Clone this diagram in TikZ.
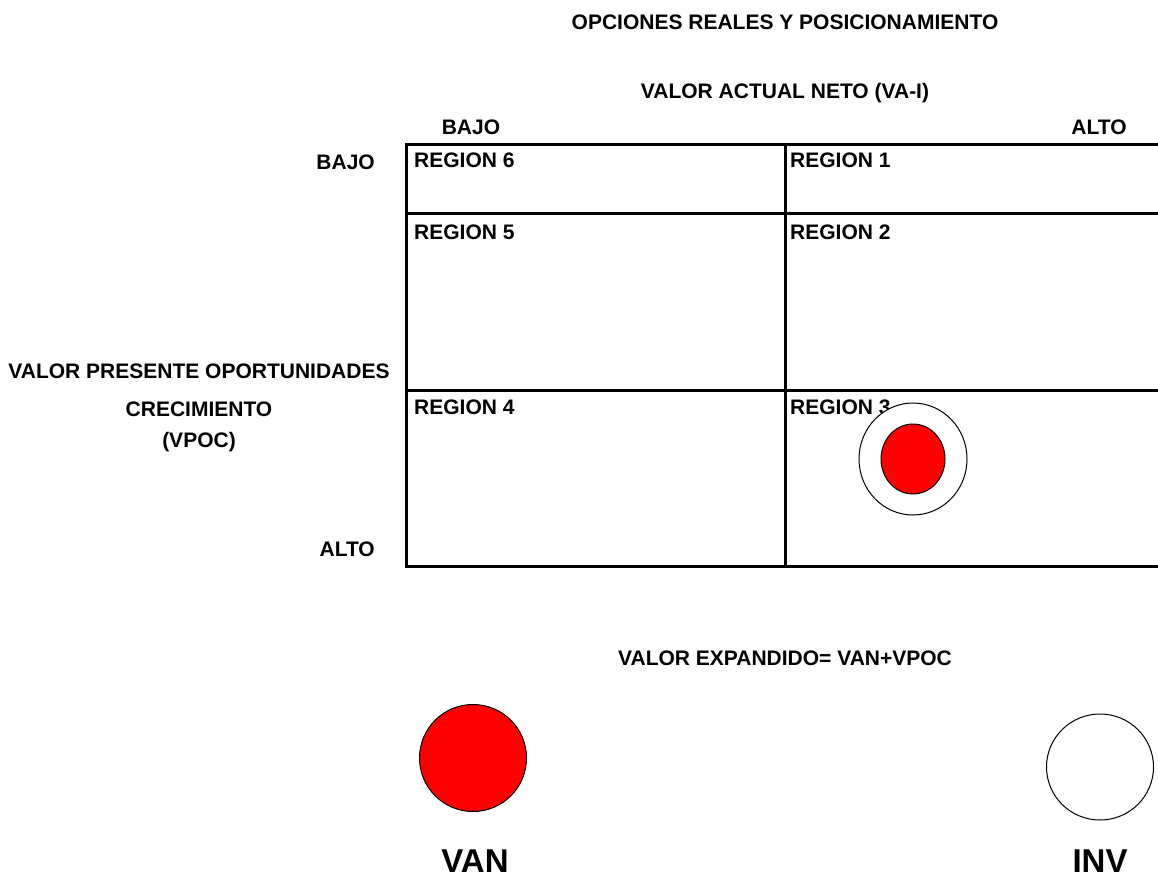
\documentclass[tikz,border=0pt]{standalone}
\usepackage{fontspec}
\setmainfont{Liberation Sans}
\usetikzlibrary{shapes.geometric}
\begin{document}
\begin{tikzpicture}[x=1pt,y=-1pt,
  lbl/.style={font=\fontsize{21}{24}\selectfont\bfseries, inner sep=0pt},
  big/.style={font=\fontsize{33}{36}\selectfont\bfseries, inner sep=0pt},
  gridline/.style={line width=3pt, line cap=rect},
  ring/.style={ellipse, draw=black, line width=1pt, inner sep=0pt}]
\useasboundingbox (0,0) rectangle (1158,880);
\begin{scope}
\clip (0,0) rectangle (1158,880);
% grid corners
\coordinate (tl) at (406,144);
\coordinate (tm) at (785,144);
\coordinate (tr) at (1170,144);
\coordinate (r1l) at (406,213);
\coordinate (r1r) at (1170,213);
\coordinate (r2l) at (406,390);
\coordinate (r2r) at (1170,390);
\coordinate (bl) at (406,566);
\coordinate (bm) at (785,566);
\coordinate (br) at (1170,566);
\draw[gridline] (tl) -- (tr);
\draw[gridline] (r1l) -- (r1r);
\draw[gridline] (r2l) -- (r2r);
\draw[gridline] (bl) -- (br);
\draw[gridline] (tl) -- (bl);
\draw[gridline] (tm) -- (bm);
\end{scope}
% texts
\node[lbl] (title) at (785,22) {OPCIONES REALES Y POSICIONAMIENTO};
\node[lbl] (van-i) at (785,93) {VALOR ACTUAL NETO (VA-I)};
\node[lbl] (bajoT) at (471,127) {BAJO};
\node[lbl] (altoT) at (1099,127) {ALTO};
\node[lbl, anchor=east] (bajoL) at (375,162) {BAJO};
\node[lbl, anchor=east] (altoL) at (375,549) {ALTO};
\node[lbl] (vp1) at (199,371) {VALOR PRESENTE OPORTUNIDADES};
\node[lbl] (vp2) at (199,409) {CRECIMIENTO};
\node[lbl] (vp3) at (199,442) {(VPOC)};
\node[lbl, anchor=west] (r6) at (414,160) {REGION 6};
\node[lbl, anchor=west] (r1) at (790,160) {REGION 1};
\node[lbl, anchor=west] (r5) at (414,232) {REGION 5};
\node[lbl, anchor=west] (r2) at (790,232) {REGION 2};
\node[lbl, anchor=west] (r4) at (414,407) {REGION 4};
\node[lbl, anchor=west] (r3) at (790,407) {REGION 3};
\node[lbl] (exp) at (785,658) {VALOR EXPANDIDO= VAN+VPOC};
% target
\node[ring, fill=white, minimum width=108pt, minimum height=112pt] (outer) at (913,459) {};
\node[ring, fill=red, minimum width=64pt, minimum height=70pt] (inner) at (913,459) {};
% bottom circles
\node[ring, fill=red, minimum width=107pt, minimum height=107pt] (vanc) at (473,758) {};
\node[ring, fill=white, minimum width=107pt, minimum height=106pt] (invc) at (1100,767) {};
\node[big] (van) at (475,861) {VAN};
\node[big] (inv) at (1100,861) {INV};
\end{tikzpicture}
\end{document}
